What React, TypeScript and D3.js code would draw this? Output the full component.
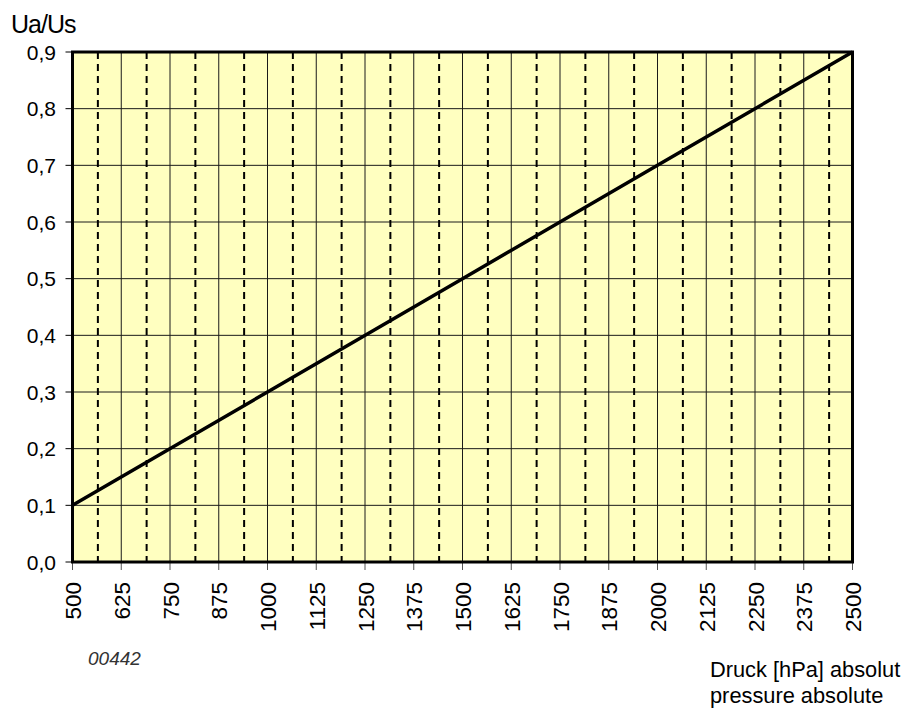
import React from "react";
import * as d3 from "d3";

const pressure = [500, 1000, 1500, 2000, 2500];
const ratio = [0.1, 0.3, 0.5, 0.7, 0.9];
const xTicks = [500, 625, 750, 875, 1000, 1125, 1250, 1375, 1500, 1625, 1750, 1875, 2000, 2125, 2250, 2375, 2500];
const yTicks = [0, 0.1, 0.2, 0.3, 0.4, 0.5, 0.6, 0.7, 0.8, 0.9];
const yLabel = "Ua/Us";
const xLabel1 = "Druck [hPa] absolut";
const xLabel2 = "pressure absolute";
const code = "00442";

const W = 914, H = 709;
const L = 72.5, R = 852.5, T = 52, B = 562;

export default function App() {
  const x = d3.scaleLinear().domain([500, 2500]).range([L, R]);
  const y = d3.scaleLinear().domain([0, 0.9]).range([B, T]);
  const line = d3.line<number>().x((_, i) => x(pressure[i])).y((d) => y(d));
  const mids = xTicks.slice(0, -1).map((t, i) => (t + xTicks[i + 1]) / 2);
  const font = "Arial, 'Liberation Sans', sans-serif";
  return (
    <svg width={W} height={H} style={{ position: "absolute", left: 0, top: 0 }} fontFamily={font}>
      <rect x={L} y={T} width={R - L} height={B - T} fill="#ffffc0" />
      {yTicks.slice(1, -1).map((t) => (
        <line key={"h" + t} x1={L} x2={R} y1={y(t)} y2={y(t)} stroke="#1a1a1a" strokeWidth={1} />
      ))}
      {xTicks.slice(1, -1).map((t) => (
        <line key={"v" + t} x1={x(t)} x2={x(t)} y1={T} y2={B} stroke="#1a1a1a" strokeWidth={1} />
      ))}
      {mids.map((t) => (
        <line key={"m" + t} x1={x(t) + 1} x2={x(t) + 1} y1={T} y2={B} stroke="#000" strokeWidth={2} strokeDasharray="7,5" />
      ))}
      {yTicks.map((t) => (
        <g key={"yt" + t}>
          <line x1={L - 7} x2={L} y1={y(t)} y2={y(t)} stroke="#000" strokeWidth={1} />
          <text x={56} y={y(t)} dy="0.36em" textAnchor="end" fontSize={21}>
            {d3.format(".1f")(t).replace(".", ",")}
          </text>
        </g>
      ))}
      {xTicks.map((t) => (
        <g key={"xt" + t}>
          <line x1={x(t)} x2={x(t)} y1={B} y2={B + 8} stroke="#555" strokeWidth={1} />
          <text transform={`translate(${x(t) + 8.5},${582}) rotate(-90)`} textAnchor="end" fontSize={22.5}>
            {t}
          </text>
        </g>
      ))}
      <path d={line(ratio) || ""} fill="none" stroke="#000" strokeWidth={3.5} />
      <rect x={L} y={T} width={R - L} height={B - T} fill="none" stroke="#000" strokeWidth={3} />
      <text x={11} y={33} fontSize={25} letterSpacing={-1}>{yLabel}</text>
      <text x={710} y={677} fontSize={21.8}>{xLabel1}</text>
      <text x={710} y={703} fontSize={21.8}>{xLabel2}</text>
      <text x={88} y={665} fontSize={19} fontStyle="italic" fill="#333">{code}</text>
    </svg>
  );
}
